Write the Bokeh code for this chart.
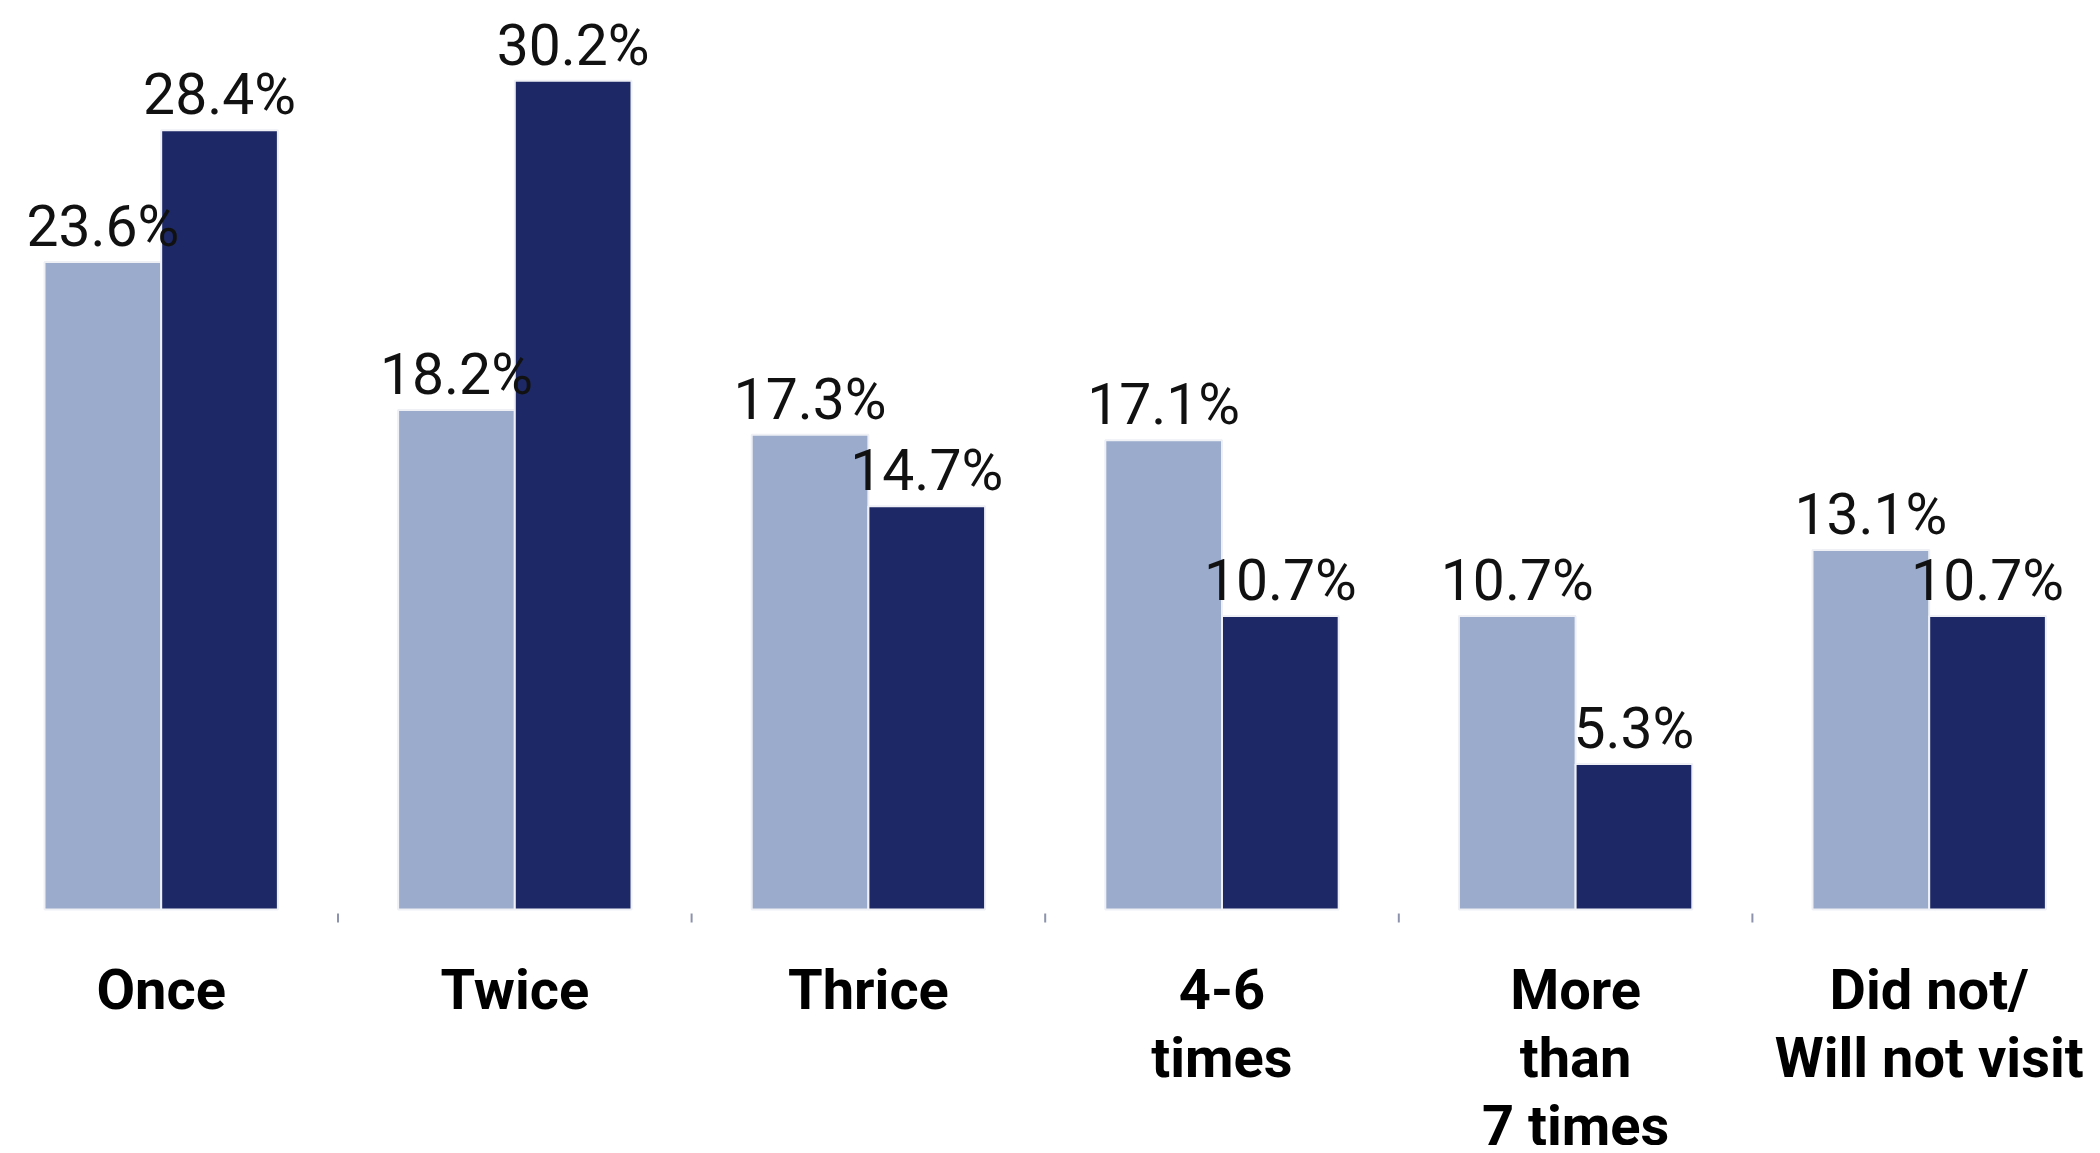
from bokeh.plotting import figure
from bokeh.models import ColumnDataSource, Range1d, LabelSet
from bokeh.transform import dodge
from bokeh.core.properties import value
from bokeh.embed import file_html
from bokeh.resources import INLINE

categories = ["Once", "Twice", "Thrice", "4-6\ntimes", "More\nthan\n7 times", "Did not/\nWill not visit"]
series_light = [23.6, 18.2, 17.3, 17.1, 10.7, 13.1]
series_dark = [28.4, 30.2, 14.7, 10.7, 5.3, 10.7]

positions = list(range(len(categories)))
boundaries = [i + 0.5 for i in positions[:-1]]

src = ColumnDataSource(dict(
    pos=positions,
    light=series_light,
    dark=series_dark,
    light_lbl=[f"{v:.1f}%" for v in series_light],
    dark_lbl=[f"{v:.1f}%" for v in series_dark],
))

FONT = "Roboto"
W, H = 2084, 1145
PX_PER_UNIT = 27.44           # vertical scale (pixels per percentage point)
BASELINE_PX = 909             # baseline distance from frame top
PX_PER_GROUP = 353.6
FIRST_CENTER_PX = 160.7
CAT_FIRST = 99                # first category line baseline below the bars' baseline (px)
CAT_LINE = 68                 # category line spacing in px

# one row per category label line, each line centred under its group
line_pos, line_txt, line_off = [], [], []
for pos, cat in zip(positions, categories):
    for k, ln in enumerate(cat.split("\n")):
        line_pos.append(pos)
        line_txt.append(ln)
        line_off.append(-(CAT_FIRST + k * CAT_LINE))
cat_src = ColumnDataSource(dict(pos=line_pos, txt=line_txt, off=line_off, zero=[0] * len(line_pos)))

p = figure(width=W, height=H, output_backend="svg", toolbar_location=None,
           x_range=Range1d(-FIRST_CENTER_PX / PX_PER_GROUP, (W - FIRST_CENTER_PX) / PX_PER_GROUP),
           y_range=Range1d(-(H - BASELINE_PX) / PX_PER_UNIT, BASELINE_PX / PX_PER_UNIT),
           min_border_left=0, min_border_right=0, min_border_top=0, min_border_bottom=0)
p.outline_line_color = None
p.grid.visible = False
p.axis.visible = False

LIGHT = "#9aabcb"
DARK = "#1d2966"
BW = 0.33
p.vbar(x=dodge("pos", -BW / 2, range=p.x_range), top="light", width=BW, bottom=0,
       source=src, fill_color=LIGHT, line_color="#eef0f6", line_width=2)
p.vbar(x=dodge("pos", BW / 2, range=p.x_range), top="dark", width=BW, bottom=0,
       source=src, fill_color=DARK, line_color="#eef0f6", line_width=2)

# small separator ticks between groups, just below the baseline
p.segment(x0=boundaries, x1=boundaries,
          y0=[-4 / PX_PER_UNIT] * len(boundaries), y1=[-13 / PX_PER_UNIT] * len(boundaries),
          line_color="#8e93ad", line_width=2)

for col, lbl, off in (("light", "light_lbl", -BW / 2), ("dark", "dark_lbl", BW / 2)):
    ls = LabelSet(x=dodge("pos", off, range=p.x_range), y=col, text=lbl, source=src,
                  text_align="center", text_baseline="alphabetic", y_offset=16,
                  text_font=value(FONT), text_font_size=value("57px"), text_color="#111111")
    p.add_layout(ls)

cl = LabelSet(x="pos", y="zero", text="txt", y_offset="off", source=cat_src,
              text_align="center", text_baseline="alphabetic",
              text_font=value(FONT), text_font_style="bold", text_font_size=value("56px"),
              text_color="#000000")
p.add_layout(cl)

open("out.html", "w").write(file_html(p, INLINE))
